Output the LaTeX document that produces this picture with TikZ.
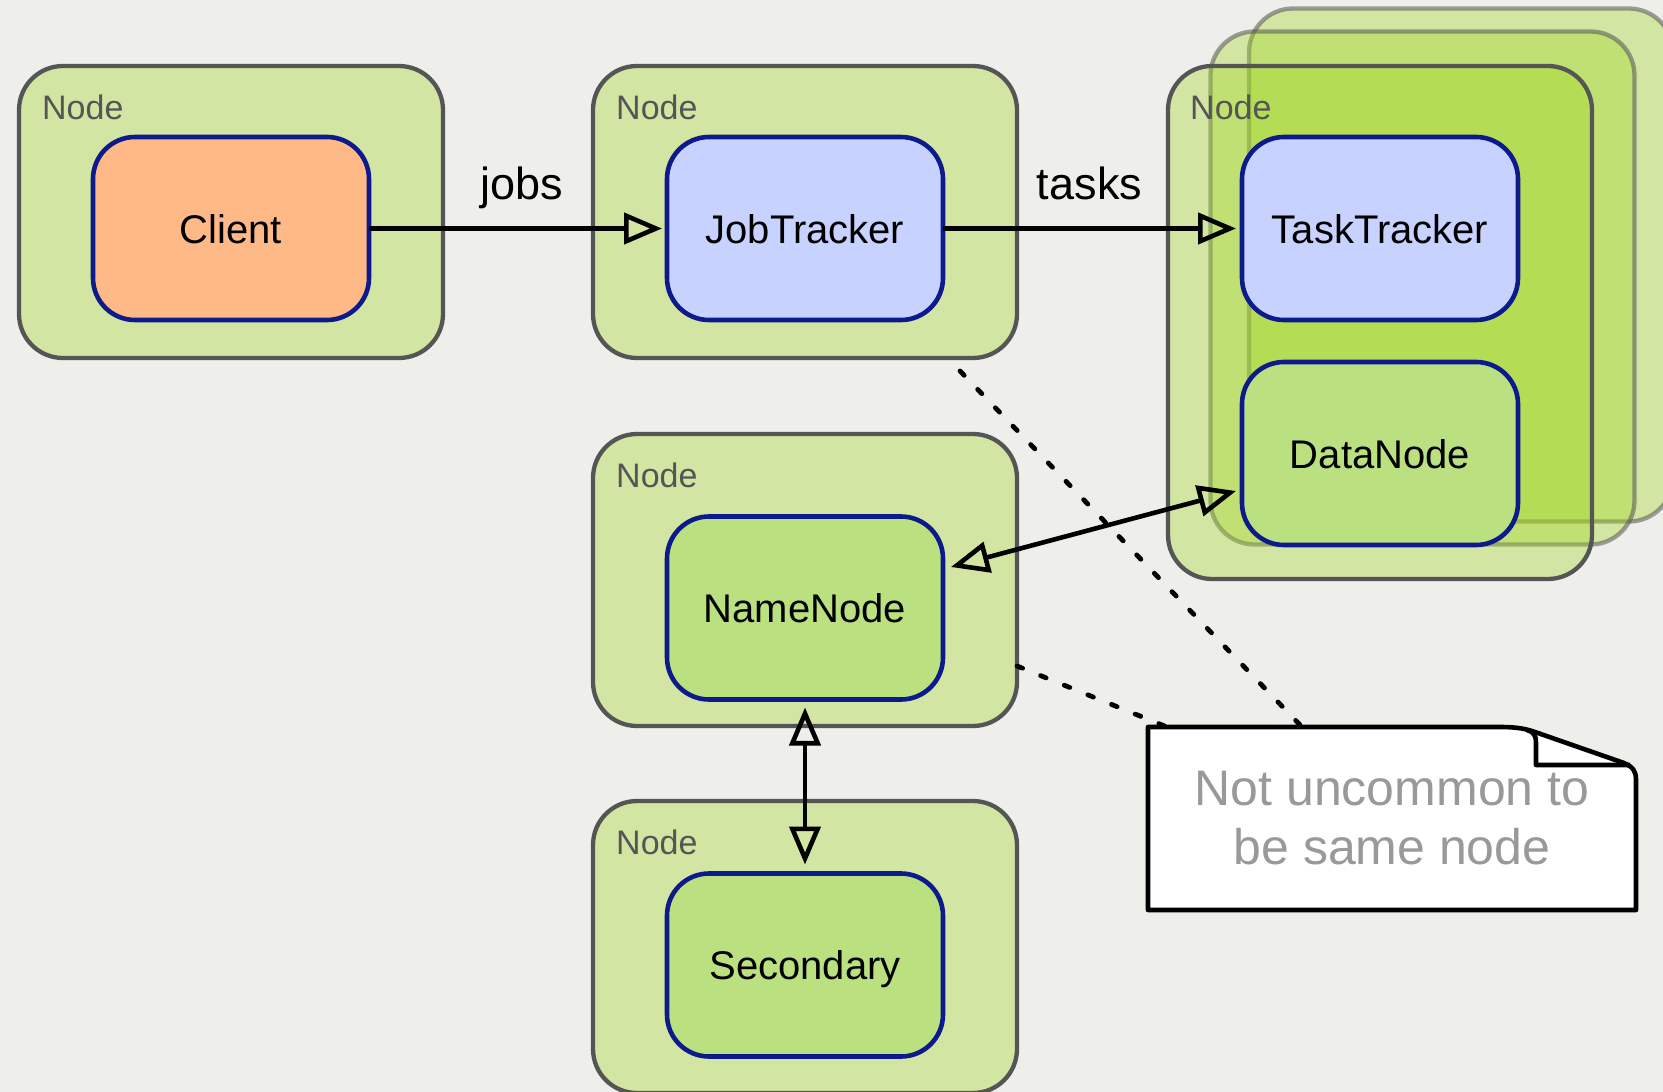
\documentclass[tikz,border=0pt]{standalone}
\usepackage{fontspec}
\setmainfont{Liberation Sans}
\usetikzlibrary{arrows.meta}
\definecolor{bgc}{RGB}{238,238,234}
\definecolor{nodegreen}{RGB}{160,215,30}
\definecolor{boxborder}{RGB}{85,85,85}
\definecolor{procborder}{RGB}{12,26,140}
\definecolor{clientfill}{RGB}{255,185,134}
\definecolor{trackerfill}{RGB}{200,210,255}
\definecolor{hdfsfill}{RGB}{187,224,128}
\definecolor{notetext}{RGB}{153,153,153}
\definecolor{labelgray}{RGB}{85,85,85}
\begin{document}
\begin{tikzpicture}[x=1pt,y=-1pt,
  hostbox/.style={rectangle, rounded corners=44pt, line width=4.3pt, draw=boxborder, fill=nodegreen, fill opacity=0.35, minimum width=424pt, minimum height=292pt, inner sep=0pt, outer sep=0pt},
  tallbox/.style={hostbox, minimum height=513pt},
  ghostbox/.style={tallbox, draw opacity=0.55},
  proc/.style={rectangle, rounded corners=42pt, line width=4.6pt, draw=procborder, minimum width=276pt, minimum height=183pt, inner sep=0pt, outer sep=0pt, text height=29pt, text depth=0pt, font=\fontsize{40}{48}\selectfont},
  hostlabel/.style={anchor=base west, inner sep=0pt, text=labelgray, font=\fontsize{34}{40}\selectfont},
  tipopen/.tip={Triangle[open,length=38pt,width=31pt]},
  flow/.style={line width=4.6pt, -tipopen},
  twoway/.style={line width=4.6pt, tipopen-tipopen},
  flowlabel/.style={anchor=base, inner sep=0pt, yshift=29pt, font=\fontsize{45}{54}\selectfont},
  hint/.style={line width=4.8pt, line cap=round, dash pattern=on 6pt off 19.5pt},
  notetxt/.style={text=notetext, align=center, inner sep=0pt, font=\fontsize{50}{59}\selectfont},
]
\useasboundingbox (0,0) rectangle (1663,1092);
\clip (0,0) rectangle (1663,1092);
\fill[bgc] (0,0) rectangle (1663,1092);

% host boxes
\node[ghostbox] (tt3) at (1461,265) {};
\node[ghostbox] (tt2) at (1422.5,288) {};
\node[tallbox] (tthost) at (1380,322.5) {};
\node[hostbox] (clienthost) at (231,212) {};
\node[hostbox] (jthost) at (805,212) {};
\node[hostbox] (nnhost) at (805,580) {};
\node[hostbox] (snhost) at (805,947) {};

\node[hostlabel] (lblclient) at ([shift={(23pt,-53pt)}]clienthost.north west) {Node};
\node[hostlabel] (lbljt) at ([shift={(23pt,-53pt)}]jthost.north west) {Node};
\node[hostlabel] (lbltt) at ([shift={(22pt,-53pt)}]tthost.north west) {Node};
\node[hostlabel] (lblnn) at ([shift={(23pt,-53pt)}]nnhost.north west) {Node};
\node[hostlabel] (lblsn) at ([shift={(23pt,-53pt)}]snhost.north west) {Node};

% processes
\node[proc, fill=clientfill] (client) at (231,228.5) {Client};
\node[proc, fill=trackerfill] (jt) at (805,228.5) {JobTracker};
\node[proc, fill=trackerfill] (tt) at (1380,228.5) {TaskTracker};
\node[proc, fill=hdfsfill] (dn) at (1380,453.5) {DataNode};
\node[proc, fill=hdfsfill] (nn) at (805,608) {NameNode};
\node[proc, fill=hdfsfill] (sn) at (805,965) {Secondary};

% note geometry
\node[minimum width=488pt, minimum height=183pt, inner sep=0pt, outer sep=0pt] (note) at (1392,818.5) {};

% dotted hints
\coordinate (hintA) at ([shift={(-57pt,-13pt)}]jthost.south east);
\draw[hint] (hintA) -- ([xshift=-90pt]note.north);
\draw[hint] ([yshift=-86pt]nnhost.east) -- ([xshift=19pt]note.north west);

% note shape
\filldraw[fill=white, draw=black, line width=4.6pt, line join=round]
 (note.north west) -- ([shift={(-136pt,0pt)}]note.north east)
 .. controls ([shift={(-118pt,0pt)}]note.north east) and ([shift={(-110pt,-2pt)}]note.north east) .. ([shift={(-101pt,-5pt)}]note.north east)
 -- ([shift={(-12pt,-36pt)}]note.north east)
 .. controls ([shift={(-3pt,-40pt)}]note.north east) and ([shift={(0pt,-44pt)}]note.north east) .. ([shift={(0pt,-53pt)}]note.north east)
 -- (note.south east) -- (note.south west) -- cycle;
\draw[line width=4.6pt, line join=round]
 ([shift={(-109pt,-3pt)}]note.north east) .. controls ([shift={(-100pt,-6pt)}]note.north east) and ([shift={(-100pt,-10pt)}]note.north east) .. ([shift={(-100pt,-20pt)}]note.north east)
 -- ([shift={(-100pt,-38pt)}]note.north east) -- ([shift={(-6pt,-38pt)}]note.north east);
\node[notetxt] (notetextnode) at (note.center) {Not uncommon to\\be same node};

% connectors
\draw[flow] (client.east) -- node[flowlabel, pos=0.52] (jobslbl) {jobs} ([xshift=-5pt]jt.west);
\draw[flow] (jt.east) -- node[flowlabel] (taskslbl) {tasks} ([xshift=-6pt]tt.west);
\draw[twoway] ([shift={(8pt,41pt)}]nn.east) -- ([shift={(-6pt,-37.5pt)}]dn.west);
\draw[twoway] ([yshift=-8pt]nn.south) -- ([yshift=9pt]sn.north);
\end{tikzpicture}
\end{document}
